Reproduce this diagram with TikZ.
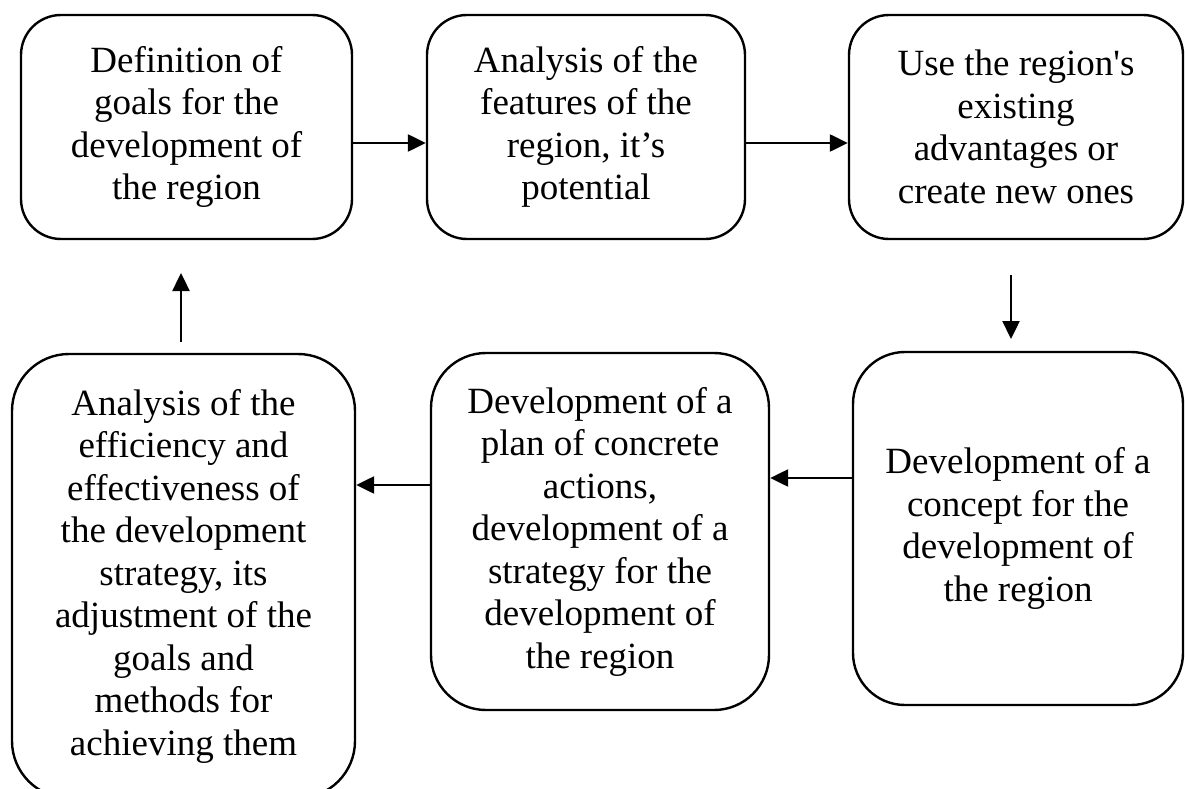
\documentclass[tikz,border=0pt]{standalone}
\usepackage{fontspec}
\setmainfont{Liberation Serif}[Ligatures=TeXOff]
\usetikzlibrary{arrows.meta}
\begin{document}
\begin{tikzpicture}[x=1pt,y=-1pt,
  stage/.style={draw,line width=2.4pt,align=center,inner sep=0pt,
    font=\fontsize{37}{42.5}\selectfont},
  flow/.style={line width=2.4pt,-{Triangle[length=18pt,width=17pt]}}]
\clip (0,0) rectangle (1185,789);
\fill[white] (0,0) rectangle (1185,789);

% upper row
\node[stage,rounded corners=40pt,minimum width=331pt,minimum height=224pt]
  (b1) at (186.5,127) {Definition of\\goals for the\\development of\\the region};
\node[stage,rounded corners=40pt,minimum width=318pt,minimum height=224pt]
  (b2) at (586,127) {Analysis of the\\features of the\\region, it’s\\potential};
\node[stage,rounded corners=40pt,minimum width=334pt,minimum height=224pt]
  (b3) at (1016,127) {Use the region's\\existing\\advantages or\\create new ones};

% lower row
\node[stage,rounded corners=52pt,minimum width=330pt,minimum height=353pt]
  (b4) at (1018,528.5) {Development of a\\concept for the\\development of\\the region};
\node[stage,rounded corners=55pt,minimum width=338pt,minimum height=357pt]
  (b5) at (600,531.5) {Development of a\\plan of concrete\\actions,\\development of a\\strategy for the\\development of\\the region};
\node[stage,rounded corners=57pt,minimum width=343pt,minimum height=444pt]
  (b6) at (183.5,576) {Analysis of the\\efficiency and\\effectiveness of\\the development\\strategy, its\\adjustment of the\\goals and\\methods for\\achieving them};

% levels and free ends of the connectors
\coordinate (top) at (0,143);
\coordinate (r45) at (0,478);
\coordinate (r56) at (0,485);
\coordinate (down1) at (1011,275);
\coordinate (down2) at (1011,339);
\coordinate (up1) at (181,342);
\coordinate (up2) at (181,273);

\draw[flow] (b1.east |- top) -- (b2.west |- top);
\draw[flow] (b2.east |- top) -- (b3.west |- top);
\draw[flow] (down1) -- (down2);
\draw[flow] (b4.west |- r45) -- (b5.east |- r45);
\draw[flow] (b5.west |- r56) -- (b6.east |- r56);
\draw[flow] (up1) -- (up2);
\end{tikzpicture}
\end{document}
